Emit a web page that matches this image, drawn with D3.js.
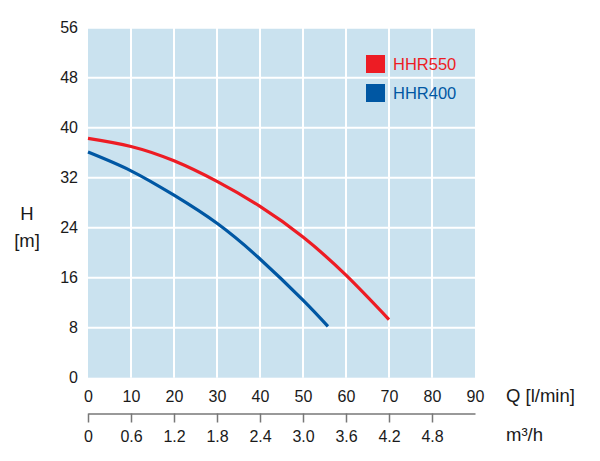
<!DOCTYPE html>
<html>
<head>
<meta charset="utf-8">
<script src="https://cdn.jsdelivr.net/npm/d3@7"></script>
<style>
    body { margin: 0; background: #fff; }
    svg { display: block; font-family: Arial, "Liberation Sans", sans-serif; }
</style>
</head>
<body>
<div id="chart-div"></div>
<script>
//---------------------------------//
// Data                            //
//---------------------------------//

var seriesNames = ['HHR550', 'HHR400'];
var seriesColors = ['#ed1c24', '#0057a3'];

// flow Q [l/min] and head H [m]
var q550 = [0, 10, 20, 30, 40, 50, 60, 70];
var h550 = [38.3, 37.0, 34.7, 31.4, 27.4, 22.5, 16.4, 9.3];

var q400 = [0, 10, 20, 30, 40, 50, 55.8];
var h400 = [36.1, 33.1, 29.2, 24.7, 19.0, 12.4, 8.2];

var qTicks = [0, 10, 20, 30, 40, 50, 60, 70, 80, 90];
var hTicks = [0, 8, 16, 24, 32, 40, 48, 56];
var m3Ticks = ['0', '0.6', '1.2', '1.8', '2.4', '3.0', '3.6', '4.2', '4.8'];

//---------------------------------//
// Chart                           //
//---------------------------------//

window.Chart = window.Chart || {};

Chart.init = function() {
    Chart.width = 600;
    Chart.height = 461;

    Chart.left = 88;
    Chart.right = 475;
    Chart.top = 27.7;
    Chart.bottom = 377.7;

    Chart.svg = d3.select('#chart-div').append('svg')
                  .attr('width', Chart.width)
                  .attr('height', Chart.height);

    Chart.x = d3.scaleLinear().domain([0, 90]).range([Chart.left, Chart.right]);
    Chart.y = d3.scaleLinear().domain([0, 56]).range([Chart.bottom, Chart.top]);
    // m3/h axis, 1 l/min = 0.06 m3/h
    Chart.xm3 = d3.scaleLinear().domain([0, 5.4]).range([Chart.left, Chart.right]);

    Chart.drawPlotArea();
    Chart.drawAxes();
    Chart.drawCurves();
    Chart.drawLegend();
};

Chart.drawPlotArea = function() {
    var g = Chart.svg.append('g');
    g.append('rect')
     .attr('x', Chart.left).attr('y', Chart.top)
     .attr('width', Chart.right - Chart.left)
     .attr('height', Chart.bottom - Chart.top)
     .attr('fill', '#cae2ef');

    g.selectAll('line.vgrid')
     .data(qTicks.slice(1, -1))
     .enter().append('line')
      .attr('class', 'vgrid')
      .attr('x1', d => Chart.x(d)).attr('x2', d => Chart.x(d))
      .attr('y1', Chart.top).attr('y2', Chart.bottom)
      .attr('stroke', '#fff').attr('stroke-width', 2);

    g.selectAll('line.hgrid')
     .data(hTicks.slice(1))
     .enter().append('line')
      .attr('class', 'hgrid')
      .attr('x1', Chart.left).attr('x2', Chart.right)
      .attr('y1', d => Chart.y(d)).attr('y2', d => Chart.y(d))
      .attr('stroke', '#fff').attr('stroke-width', 2);
};

Chart.drawAxes = function() {
    // left axis labels
    var yAxis = d3.axisLeft(Chart.y).tickValues(hTicks).tickSize(0).tickPadding(10);
    var gy = Chart.svg.append('g')
                  .attr('transform', 'translate(' + Chart.left + ',0)')
                  .call(yAxis);
    gy.select('.domain').remove();
    gy.selectAll('text').attr('font-size', 16).attr('fill', '#1a1a1a')
      .attr('font-family', 'Arial, "Liberation Sans", sans-serif');

    // Q [l/min] labels, no line
    var xAxis = d3.axisBottom(Chart.x).tickValues(qTicks).tickSize(0).tickPadding(0);
    var gx = Chart.svg.append('g')
                  .attr('transform', 'translate(0,' + (Chart.bottom + 13) + ')')
                  .call(xAxis);
    gx.select('.domain').remove();
    gx.selectAll('text').attr('font-size', 16).attr('fill', '#1a1a1a')
      .attr('font-family', 'Arial, "Liberation Sans", sans-serif');

    // m3/h axis with line and ticks
    var m3Axis = d3.axisBottom(Chart.xm3)
                   .tickValues(m3Ticks.map(Number))
                   .tickFormat((d, i) => m3Ticks[i])
                   .tickSizeOuter(0).tickSizeInner(9).tickPadding(8);
    var gm = Chart.svg.append('g')
                  .attr('transform', 'translate(0,413.5)')
                  .call(m3Axis);
    gm.select('.domain').attr('stroke', '#777').attr('stroke-width', 1.5);
    gm.selectAll('.tick line').attr('stroke', '#777').attr('stroke-width', 1.5);
    gm.selectAll('text').attr('font-size', 16).attr('fill', '#1a1a1a')
      .attr('font-family', 'Arial, "Liberation Sans", sans-serif');

    // axis titles
    Chart.svg.append('text').attr('x', 506).attr('y', 402)
         .attr('font-size', 18.5).attr('fill', '#1a1a1a').text('Q [l/min]');
    Chart.svg.append('text').attr('x', 506).attr('y', 441)
         .attr('font-size', 18.5).attr('fill', '#1a1a1a').text('m³/h');
    Chart.svg.append('text').attr('x', 27).attr('y', 220)
         .attr('text-anchor', 'middle')
         .attr('font-size', 18.5).attr('fill', '#1a1a1a').text('H');
    Chart.svg.append('text').attr('x', 27).attr('y', 247)
         .attr('text-anchor', 'middle')
         .attr('font-size', 18.5).attr('fill', '#1a1a1a').text('[m]');
};

Chart.drawCurves = function() {
    var line = d3.line()
                 .x(d => Chart.x(d[0]))
                 .y(d => Chart.y(d[1]))
                 .curve(d3.curveNatural);

    var series = [d3.zip(q550, h550), d3.zip(q400, h400)];

    Chart.svg.append('g').selectAll('path')
         .data(series)
         .enter().append('path')
          .attr('d', line)
          .attr('fill', 'none')
          .attr('stroke', (d, i) => seriesColors[i])
          .attr('stroke-width', 3.2);
};

Chart.drawLegend = function() {
    var g = Chart.svg.append('g').attr('transform', 'translate(366,55)');
    var items = g.selectAll('g')
                 .data(seriesNames)
                 .enter().append('g')
                  .attr('transform', (d, i) => 'translate(0,' + (i * 29) + ')');
    items.append('rect')
         .attr('width', 19).attr('height', 18)
         .attr('fill', (d, i) => seriesColors[i]);
    items.append('text')
         .attr('x', 27).attr('y', 15)
         .attr('font-size', 16.5)
         .attr('fill', (d, i) => seriesColors[i])
         .text(d => d);
};

document.addEventListener('DOMContentLoaded', Chart.init);
</script>
</body>
</html>
